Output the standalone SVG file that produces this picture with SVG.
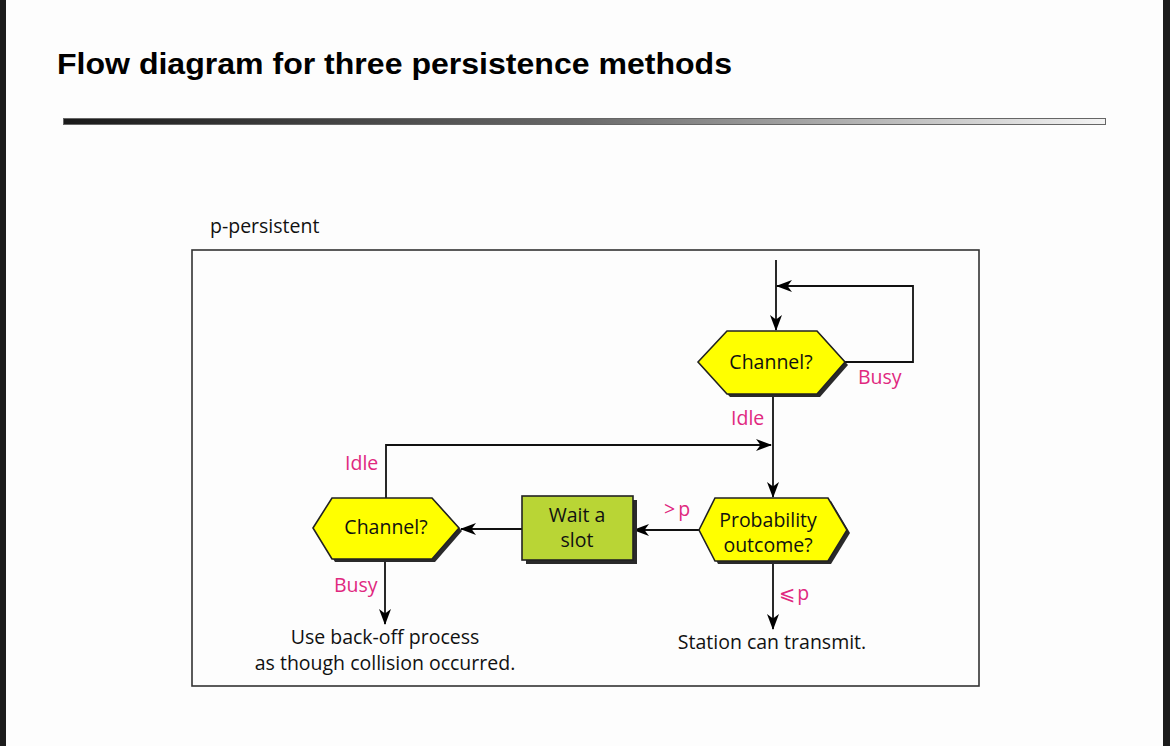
<svg xmlns="http://www.w3.org/2000/svg" width="1170" height="746" viewBox="0 0 1170 746">
  <defs>
    <linearGradient id="bar" x1="0" y1="0" x2="1" y2="0">
      <stop offset="0" stop-color="#1a1a1a"/>
      <stop offset="0.5" stop-color="#6a6a6a"/>
      <stop offset="1" stop-color="#f4f4f4"/>
    </linearGradient>
    <marker id="arr" viewBox="0 0 16 12" refX="15" refY="6" markerWidth="16" markerHeight="12" markerUnits="userSpaceOnUse" orient="auto">
      <path d="M0,0 L16,6 L0,12 L4.5,6 z" fill="#000"/>
    </marker>
    <style>
      .t { font-family: "Open Sans", "Noto Sans", "Liberation Sans", sans-serif; font-size: 19.5px; fill: #111; }
      .lbl { font-family: "Open Sans", "Noto Sans", "DejaVu Sans", "Liberation Sans", sans-serif; font-size: 19.5px; fill: #e0287f; }
      .hex { fill: #ffff00; stroke: #222; stroke-width: 1.6; }
      .shadow { fill: #2a2a2a; }
      .box { fill: #b9d535; stroke: #222; stroke-width: 1.6; }
      .conn { fill: none; stroke: #111; stroke-width: 1.8; }
    </style>
  </defs>

  <rect x="0" y="0" width="1170" height="746" fill="#fdfdfd"/>
  <rect x="0" y="0" width="6" height="746" fill="#1c1c1c"/>
  <rect x="1163" y="0" width="7" height="746" fill="#1c1c1c"/>

  <text x="57" y="74" font-family="Liberation Sans, Arial, sans-serif" font-weight="bold" font-size="30" fill="#000" textLength="675" lengthAdjust="spacingAndGlyphs">Flow diagram for three persistence methods</text>
  <rect x="63.5" y="118.5" width="1042" height="6" fill="url(#bar)" stroke="#666" stroke-width="1"/>

  <text class="t" x="210" y="233">p-persistent</text>
  <rect x="192" y="250" width="787" height="436" fill="none" stroke="#333" stroke-width="1.6"/>

  <g id="connectors">
    <path class="conn" d="M776,260 L776,330" marker-end="url(#arr)"/>
    <path class="conn" d="M845,362 L913,362 L913,286 L777,286" marker-end="url(#arr)"/>
    <path class="conn" d="M773,394 L773,497" marker-end="url(#arr)"/>
    <path class="conn" d="M386,498 L386,445 L771,445" marker-end="url(#arr)"/>
    <path class="conn" d="M699,530 L634,530" marker-end="url(#arr)"/>
    <path class="conn" d="M522,529 L461,529" marker-end="url(#arr)"/>
    <path class="conn" d="M773,561 L773,629" marker-end="url(#arr)"/>
    <path class="conn" d="M385,559 L385,624" marker-end="url(#arr)"/>
  </g>

  <g id="channel-top">
    <polygon class="shadow" points="701,365 730,334 820,334 848,365 820,397 730,397"/>
    <polygon class="hex" points="698,362 727,331 817,331 845,362 817,394 727,394"/>
    <text class="t" x="771" y="369" text-anchor="middle">Channel?</text>
  </g>

  <g id="probability">
    <polygon class="shadow" points="702,533 718,501 831,501 850,533 831,564 718,564"/>
    <polygon class="hex" points="699,530 715,498 828,498 847,530 828,561 715,561"/>
    <text class="t" x="768" y="527" text-anchor="middle">Probability</text>
    <text class="t" x="768" y="552" text-anchor="middle">outcome?</text>
  </g>

  <g id="wait-slot">
    <rect class="shadow" x="526" y="500" width="111" height="64"/>
    <rect class="box" x="522" y="496" width="111" height="64"/>
    <text class="t" x="577" y="522" text-anchor="middle">Wait a</text>
    <text class="t" x="577" y="547" text-anchor="middle">slot</text>
  </g>

  <g id="channel-left">
    <polygon class="shadow" points="316,531 335,501 435,501 462,531 435,562 335,562"/>
    <polygon class="hex" points="313,528 332,498 432,498 459,528 432,559 332,559"/>
    <text class="t" x="386" y="534" text-anchor="middle">Channel?</text>
  </g>

  <g id="labels">
    <text class="lbl" x="858" y="384">Busy</text>
    <text class="lbl" x="731" y="425">Idle</text>
    <text class="lbl" x="345" y="470">Idle</text>
    <text class="lbl" x="334" y="592">Busy</text>
    <text class="lbl" x="664" y="516" letter-spacing="3">&gt;p</text>
    <text class="lbl" x="779" y="600" letter-spacing="2">⩽p</text>
  </g>

  <g id="outcome-transmit">
    <text class="t" x="772" y="649" text-anchor="middle">Station can transmit.</text>
  </g>
  <g id="outcome-backoff">
    <text class="t" x="385" y="644" text-anchor="middle">Use back-off process</text>
    <text class="t" x="385" y="670" text-anchor="middle">as though collision occurred.</text>
  </g>
</svg>
